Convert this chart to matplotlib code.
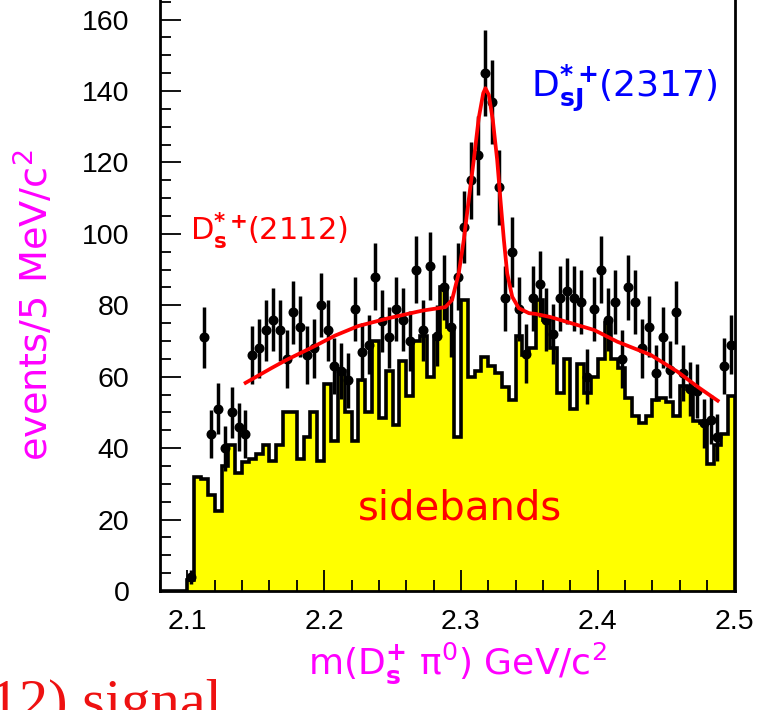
import numpy as np
import matplotlib.pyplot as plt
from matplotlib.ticker import MultipleLocator

plt.rcParams['mathtext.default'] = 'regular'
plt.rcParams['font.family'] = ['DejaVu Sans']

# 5 MeV bins from 2.08 to 2.50 GeV
edges = np.linspace(2.08, 2.50, 85)
centers = 0.5 * (edges[:-1] + edges[1:])

# sideband histogram (events per bin)
sidebands = [0, 0, 0, 0, 3, 32, 31.5, 27, 22.5, 35,
             41, 33, 36, 37, 38.5, 41, 36.5, 41, 50, 50,
             37, 43, 50, 36.5, 58, 42, 61.5, 50, 42, 59,
             50, 70, 48.5, 61.5, 46.5, 64.5, 54.5, 70, 71.5, 60,
             71.5, 85, 74, 43, 81.5, 60, 61.5, 65.5, 63, 61,
             57, 53.5, 71.5, 66, 68, 81.5, 76, 68, 55.5, 65,
             51, 63.5, 55.5, 60, 65, 75, 65, 62.5, 54, 49,
             47, 49, 53.5, 54, 53, 49, 57.5, 56.5, 47.5, 47,
             35.5, 41, 44, 54.5]

# signal-region data points (nan = no point drawn)
signal = [np.nan, np.nan, np.nan, np.nan, 4, np.nan, 71, 44, 51, 40,
          50, 46, 44, 66, 68, 73, 76, 73, 65, 78,
          74, 66, 68, 80, 73, 63, 61.5, 59, 79, 67,
          69, 88, 75.5, 71, 79, 76, 70, 90, 73, 91,
          71.5, 85, 74, 88, 102, 115, 122, 145, 137, 113,
          82, 95, 79, 66.5, 82, 86, 76, 72, 82, 84,
          82, 81, 60, 79, 90, 76, 81, 65, 85, 81,
          68, 74, 61, 71, 62, 78, 61, 56.5, 56, 47,
          48, 43, 63, 69]

# fitted curve
fit_x = [2.1426, 2.1614, 2.1724, 2.1932, 2.2078, 2.2249, 2.2471, 2.2716,
         2.2886, 2.2935, 2.2984, 2.3021, 2.3057, 2.3094, 2.3130, 2.3163,
         2.3179, 2.3204, 2.3233, 2.3265, 2.3289, 2.3314, 2.3338, 2.3375,
         2.3423, 2.3497, 2.3546, 2.3656, 2.3973, 2.4046, 2.4144, 2.4388,
         2.4584, 2.4730, 2.4877]
fit_y = [58.3, 62.4, 64.7, 68.6, 71.5, 74.2, 76.4, 78.5,
         79.5, 81.5, 89.0, 98.3, 109.5, 120.7, 132.4, 139.4,
         140.8, 138.9, 131.9, 120.7, 109.5, 98.3, 89.0, 82.4,
         79.2, 77.8, 77.6, 76.7, 73.1, 71.7, 69.8, 66.1,
         61.4, 57.2, 53.3]

signal = np.array(signal, dtype=float)
ok = ~np.isnan(signal)

fig = plt.figure(figsize=(7.59, 7.10), dpi=100)
ax = fig.add_axes([160 / 759, 1 - 591 / 710, 574.5 / 759, 591 / 710])

ax.stairs(sidebands, edges, fill=True, facecolor='#ffff00', edgecolor='none', zorder=1)
ax.stairs(sidebands, edges, color='black', lw=2.6, zorder=2)
ax.errorbar(centers[ok], signal[ok], yerr=np.sqrt(signal[ok]), fmt='o', color='black',
            ms=6.2, elinewidth=2.5, capsize=0, zorder=3)
ax.plot(fit_x, fit_y, color='#ff0000', lw=2.7, zorder=4)

ax.set_xlim(2.08, 2.50)
ax.set_ylim(0, 165.5)
ax.xaxis.set_major_locator(MultipleLocator(0.1))
ax.xaxis.set_minor_locator(MultipleLocator(0.02))
ax.yaxis.set_major_locator(MultipleLocator(20))
ax.yaxis.set_minor_locator(MultipleLocator(5))
ax.tick_params(which='both', direction='in', width=1.3, colors='black')
ax.tick_params(which='major', length=15)
ax.tick_params(which='minor', length=8)
ax.tick_params(axis='y', which='major', pad=22)
ax.tick_params(axis='x', which='major', pad=13)
for lab in ax.get_xticklabels() + ax.get_yticklabels():
    lab.set_fontfamily('Liberation Sans')
    lab.set_fontsize(20.5)
ax.spines['top'].set_visible(False)
for s in ['left', 'bottom', 'right']:
    ax.spines[s].set_linewidth(2)

ax.text(2.1017, 98.3, r'$D_{\mathbf{s}}^{\mathbf{*+}}\!(2112)$', color='#ff0000',
        fontsize=22, va='baseline', ha='left')
ax.text(2.3509, 138.4, r'$D_{\mathbf{sJ}}^{\mathbf{*+}}\!(2317)$', color='#0000ff',
        fontsize=26, va='baseline', ha='left')
ax.text(2.2996, 19.9, 'sidebands', color='#ff0000', fontsize=29, va='baseline', ha='center')

fig.text(35 / 759, 1 - 305 / 710, 'events/5 MeV/c$^2$', color='#ff00ff', fontsize=27.5,
         rotation=90, ha='center', va='center')
fig.text(457 / 759, 1 - 663 / 710, r'm(D$^{\mathbf{+}}_{\mathbf{s}}$ $\pi^0$) GeV/c$^2$',
         color='#ff00ff', fontsize=26, ha='center', va='center')
fig.text(222 / 759, 1 - 719 / 710, '(2112) signal', color='#ee1111', fontsize=42,
         family='Liberation Serif', ha='right', va='baseline')

fig.savefig('out.png', dpi=100)
